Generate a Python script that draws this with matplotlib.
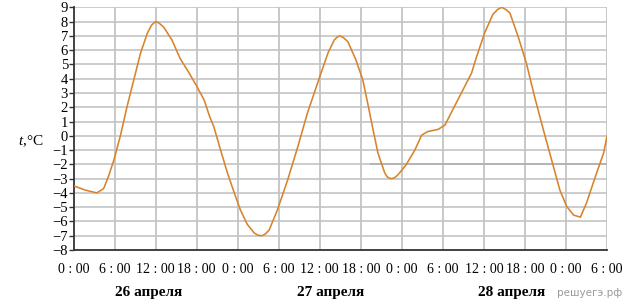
import matplotlib
matplotlib.use("Agg")
import matplotlib.pyplot as plt

# hours since 26 April 0:00, temperature in degrees C
hours = [0, 1.7, 3.4, 4.4, 5.1, 5.9, 6.85, 7.8, 8.8, 9.8, 10.8, 11.4, 12.0, 12.5, 13.2, 14.4,
         15.6, 16.9, 18.1, 19.1, 19.9, 20.5, 21.5, 22.5, 23.5, 24.4, 25.4, 26.4, 26.9, 27.5,
         28.0, 28.6, 29.8, 31.3, 32.8, 34.2, 35.9, 37.2, 38.1, 38.5, 38.9, 39.4, 40.1, 41.3,
         42.3, 43.0, 43.8, 44.5, 45.5, 45.9, 46.4, 46.9, 47.4, 48.6, 49.9, 50.9, 51.8, 53.3,
         54.3, 55.2, 56.7, 58.2, 58.9, 60.1, 61.3, 62.0, 62.6, 63.2, 63.8, 65.0, 66.2, 67.4,
         68.7, 69.9, 71.1, 72.1, 73.1, 74.1, 75.0, 76.3, 77.5, 78]
temps = [-3.5, -3.8, -4.0, -3.7, -2.85, -1.7, 0.0, 2.0, 3.9, 5.8, 7.2, 7.75, 8.0, 7.9, 7.6, 6.7,
         5.4, 4.4, 3.4, 2.5, 1.35, 0.65, -1.0, -2.6, -4.0, -5.2, -6.2, -6.8, -6.95, -7.0,
         -6.9, -6.6, -5.2, -3.1, -0.75, 1.6, 4.0, 5.8, 6.7, 6.9, 7.0, 6.9, 6.6, 5.3,
         3.9, 2.3, 0.4, -1.2, -2.6, -2.9, -3.0, -2.95, -2.75, -2.05, -1.0, 0.05, 0.3, 0.45,
         0.75, 1.6, 3.0, 4.4, 5.5, 7.2, 8.5, 8.85, 9.0, 8.85, 8.6, 6.95, 5.1, 2.75,
         0.4, -1.7, -3.8, -4.95, -5.55, -5.7, -4.7, -2.85, -1.2, 0.0]

tick_hours = list(range(0, 79, 6))
tick_labels = ["0 : 00", "6 : 00", "12 : 00", "18 : 00"] * 3 + ["0 : 00", "6 : 00"]
tick_labels = tick_labels[:len(tick_hours)]
day_names = ["26 апреля", "27 апреля", "28 апреля"]
day_pos = [11, 37.6, 64]

plt.rcParams["font.family"] = ["Liberation Serif", "DejaVu Serif"]
plt.rcParams["mathtext.fontset"] = "custom"
plt.rcParams["mathtext.it"] = "Liberation Serif:italic"
plt.rcParams["mathtext.rm"] = "Liberation Serif"

fig = plt.figure(figsize=(6.29, 3.05), dpi=100)
ax = fig.add_axes([0.1169, 0.1803, 0.8482, 0.7957])

grid_c = "#c4c4c4"
for h in tick_hours[1:]:
    ax.axvline(h, color=grid_c, lw=1.3, zorder=1)
for v in range(-7, 10):
    ax.axhline(v, color=grid_c, lw=1.2, zorder=1)
ax.hlines(-2, 43.4, 78, color="#b0b0b0", lw=1.2, zorder=1)

ax.plot(hours, temps, color="#d8832c", lw=1.15, zorder=3,
        solid_joinstyle="round", solid_capstyle="round")

ax.set_xlim(0, 78)
ax.set_ylim(-8, 9)
ax.set_xticks(tick_hours)
ax.set_xticklabels(tick_labels, fontsize=10)
ax.set_yticks(range(-8, 10))
ax.set_yticklabels([str(v).replace("-", "\u2212") for v in range(-8, 10)], fontsize=10.5)
ax.tick_params(axis="x", length=0, pad=9)
ax.tick_params(axis="y", length=3.5, width=1.0, pad=0.5, color="#333333")
for s in ("top", "right"):
    ax.spines[s].set_visible(False)
for s in ("left", "bottom"):
    ax.spines[s].set_color("#333333")
    ax.spines[s].set_linewidth(1.3)

for name, pos in zip(day_names, day_pos):
    ax.text(pos, -11.0, name, ha="center", va="center", fontsize=11, fontweight="bold")

fig.text(18 / 629, 1 - 141 / 305, r"$t$,°C", ha="left", va="center", fontsize=11)
fig.text(622 / 629, 1 - 293 / 305, "решуегэ.рф", ha="right", va="center",
         fontsize=7.5, color="#9a9a9a", family="DejaVu Sans")

fig.savefig("out.png", dpi=100)
